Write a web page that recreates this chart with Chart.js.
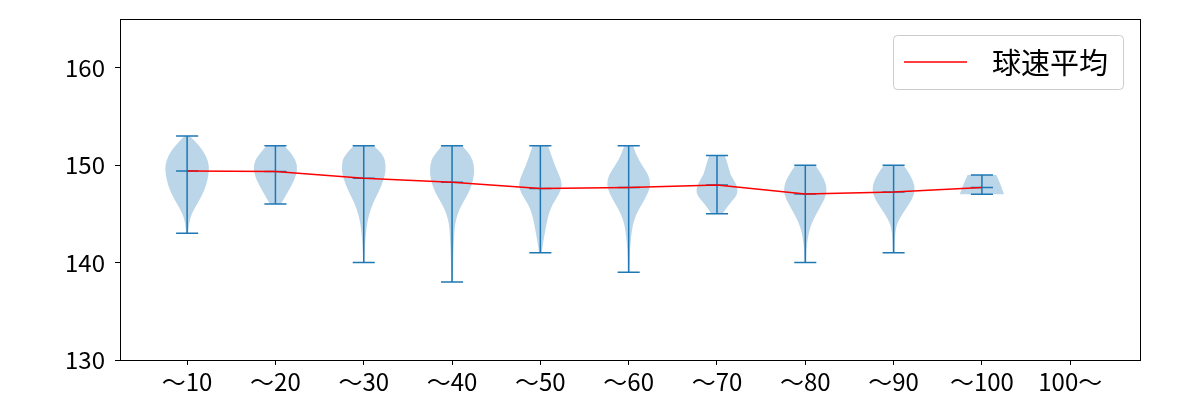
<!DOCTYPE html>
<html>
<head>
<meta charset="utf-8">
<script src="https://cdn.jsdelivr.net/npm/chart.js@4.4.1/dist/chart.umd.min.js"></script>
<style>
    body { margin: 0; background: #fff; }
    #wrap { width: 1200px; height: 400px; }
</style>
</head>
<body>
<div id="wrap"><canvas id="speedChart"></canvas></div>
<script>
// categories (pitch count buckets)
const categories = ['～10', '～20', '～30', '～40', '～50', '～60', '～70', '～80', '～90', '～100', '100～'];

// speed stats per bucket (null = no data)
const speedMax  = [153, 152, 152, 152, 152, 152, 151, 150, 150, 149, null];
const speedMin  = [143, 146, 140, 138, 141, 139, 145, 140, 141, 147, null];
const speedMean = [149.4, 149.35, 148.65, 148.25, 147.6, 147.7, 147.95, 147.05, 147.25, 147.7, null];

// violin outline: [speed, relative width]
const violinShapes = [
    [[143, 0.04], [144, 0.08], [145, 0.2], [146, 0.45], [147, 0.7], [148, 0.87], [149, 0.97], [150, 1.0], [151, 0.85], [152, 0.55], [153, 0.12]],
    [[146, 0.25], [147, 0.5], [148, 0.75], [149, 0.95], [150, 1.0], [151, 0.8], [152, 0.4]],
    [[140, 0.03], [141, 0.04], [142, 0.06], [143, 0.1], [144, 0.15], [145, 0.25], [146, 0.4], [147, 0.62], [148, 0.82], [149, 0.97], [150, 1.0], [151, 0.9], [152, 0.45]],
    [[138, 0.03], [139, 0.04], [140, 0.05], [141, 0.06], [142, 0.08], [143, 0.1], [144, 0.14], [145, 0.25], [146, 0.45], [147, 0.72], [148, 0.9], [149, 1.0], [150, 1.0], [151, 0.85], [152, 0.45]],
    [[141, 0.06], [142, 0.12], [143, 0.2], [144, 0.28], [145, 0.38], [146, 0.55], [147, 0.85], [148, 1.0], [149, 0.85], [150, 0.65], [151, 0.5], [152, 0.35]],
    [[139, 0.03], [140, 0.04], [141, 0.05], [142, 0.08], [143, 0.13], [144, 0.2], [145, 0.35], [146, 0.6], [147, 0.85], [148, 1.0], [149, 0.9], [150, 0.6], [151, 0.35], [152, 0.2]],
    [[145, 0.25], [146, 0.55], [147, 0.95], [148, 0.9], [149, 0.6], [150, 0.5], [151, 0.35]],
    [[140, 0.04], [141, 0.05], [142, 0.08], [143, 0.15], [144, 0.28], [145, 0.5], [146, 0.75], [147, 0.97], [148, 0.95], [149, 0.75], [150, 0.45]],
    [[141, 0.04], [142, 0.05], [143, 0.07], [144, 0.15], [145, 0.4], [146, 0.7], [147, 0.95], [148, 0.95], [149, 0.75], [150, 0.45]],
    [[147, 1.0], [148, 0.85], [149, 0.65]],
    []
];

const yTicks = [130, 140, 150, 160];
const legendLabel = '球速平均';

const FONT = "'Noto Sans CJK JP', 'Noto Sans', sans-serif";
const BLUE = '#1f77b4';

// mean line points
const meanPoints = speedMean.map((v, i) => ({ x: i + 1, y: v }));

// draws violin bodies + min/max/mean bars
const violinPlugin = {
    id: 'violins',
    beforeDatasetsDraw(chart) {
        const { ctx, chartArea, scales: { x, y } } = chart;
        ctx.save();
        ctx.beginPath();
        ctx.rect(chartArea.left, chartArea.top, chartArea.width, chartArea.height);
        ctx.clip();

        violinShapes.forEach((shape, i) => {
            if (!shape.length) return;
            const c = i + 1;
            const right = shape.map(([s, w]) => [x.getPixelForValue(c + w * 0.25), y.getPixelForValue(s)]);
            const left = shape.map(([s, w]) => [x.getPixelForValue(c - w * 0.25), y.getPixelForValue(s)]).reverse();

            ctx.beginPath();
            ctx.moveTo(right[0][0], right[0][1]);
            smoothTo(ctx, right);
            ctx.lineTo(left[0][0], left[0][1]);
            smoothTo(ctx, left);
            ctx.closePath();
            ctx.fillStyle = 'rgba(31, 119, 180, 0.3)';
            ctx.fill();
        });

        ctx.strokeStyle = BLUE;
        ctx.lineWidth = 1.5;
        speedMax.forEach((mx, i) => {
            if (mx === null) return;
            const c = i + 1;
            const px = x.getPixelForValue(c);
            const x0 = x.getPixelForValue(c - 0.125);
            const x1 = x.getPixelForValue(c + 0.125);
            ctx.beginPath();
            ctx.moveTo(px, y.getPixelForValue(speedMin[i]));
            ctx.lineTo(px, y.getPixelForValue(mx));
            [mx, speedMin[i], speedMean[i]].forEach(v => {
                const py = y.getPixelForValue(v);
                ctx.moveTo(x0, py);
                ctx.lineTo(x1, py);
            });
            ctx.stroke();
        });
        ctx.restore();
    }
};

function smoothTo(ctx, pts) {
    for (let i = 1; i < pts.length - 1; i++) {
        const mx = (pts[i][0] + pts[i + 1][0]) / 2;
        const my = (pts[i][1] + pts[i + 1][1]) / 2;
        ctx.quadraticCurveTo(pts[i][0], pts[i][1], mx, my);
    }
    const last = pts[pts.length - 1];
    ctx.lineTo(last[0], last[1]);
}

// frame + legend box inside plot area
const framePlugin = {
    id: 'frame',
    afterDraw(chart) {
        const { ctx, chartArea: a } = chart;
        ctx.save();
        ctx.strokeStyle = '#000';
        ctx.lineWidth = 1;
        ctx.strokeRect(Math.round(a.left) + 0.5, Math.round(a.top) + 0.5, Math.round(a.width), Math.round(a.height));

        // legend
        const bw = 230, bh = 54;
        const bx = a.right - 17 - bw, by = a.top + 16;
        ctx.beginPath();
        ctx.roundRect(bx + 0.5, by + 0.5, bw, bh, 4);
        ctx.fillStyle = 'rgba(255,255,255,0.8)';
        ctx.fill();
        ctx.strokeStyle = '#cccccc';
        ctx.stroke();

        const ly = by + bh / 2;
        ctx.beginPath();
        ctx.moveTo(bx + 11, ly);
        ctx.lineTo(bx + 74, ly);
        ctx.strokeStyle = chart.data.datasets[0].borderColor;
        ctx.lineWidth = 1.5;
        ctx.stroke();

        ctx.fillStyle = '#000';
        ctx.font = '29px ' + FONT;
        ctx.textBaseline = 'middle';
        ctx.fillText(chart.data.datasets[0].label, bx + 99, ly + 1);
        ctx.restore();
    }
};

new Chart(document.getElementById('speedChart'), {
    type: 'line',
    data: {
        datasets: [{
            label: legendLabel,
            data: meanPoints,
            borderColor: '#ff0000',
            borderWidth: 1.5,
            pointRadius: 0,
            tension: 0,
            fill: false,
            spanGaps: false
        }]
    },
    options: {
        responsive: true,
        maintainAspectRatio: false,
        animation: false,
        layout: { padding: { top: 19, right: 60, bottom: 0, left: 0 } },
        plugins: {
            legend: { display: false },
            tooltip: { enabled: false }
        },
        scales: {
            x: {
                type: 'linear',
                min: 0.24,
                max: 11.79,
                afterBuildTicks: (scale) => {
                    scale.ticks = categories.map((c, i) => ({ value: i + 1 }));
                },
                afterFit: (scale) => {
                    scale.height = 40;
                    scale.paddingLeft = 0;
                    scale.paddingRight = 0;
                },
                ticks: {
                    autoSkip: false,
                    maxRotation: 0,
                    padding: 2,
                    color: '#000',
                    font: { family: FONT, size: 24 },
                    callback: (v) => categories[v - 1]
                },
                grid: { drawOnChartArea: false, drawTicks: true, tickLength: 5, color: '#000' },
                border: { display: false }
            },
            y: {
                min: 130,
                max: 165,
                afterBuildTicks: (scale) => {
                    scale.ticks = yTicks.map(v => ({ value: v }));
                },
                afterFit: (scale) => {
                    scale.width = 120;
                    scale.paddingTop = 0;
                    scale.paddingBottom = 0;
                },
                ticks: {
                    padding: 10,
                    color: '#000',
                    font: { family: FONT, size: 24 }
                },
                grid: { drawOnChartArea: false, drawTicks: true, tickLength: 5, color: '#000' },
                border: { display: false }
            }
        }
    },
    plugins: [violinPlugin, framePlugin]
});
</script>
</body>
</html>
